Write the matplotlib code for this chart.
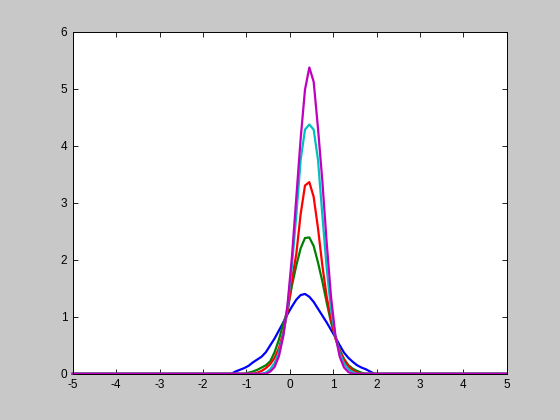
import matplotlib
matplotlib.use("Agg")
import matplotlib.pyplot as plt

# gemeinsame x-Stuetzstellen (Schritt 0.1) plus Raender -5 und 5
x_inner = [-1.45, -1.35, -1.25, -1.15, -1.05, -0.95, -0.85, -0.75, -0.65, -0.55,
           -0.45, -0.35, -0.25, -0.15, -0.05, 0.05, 0.15, 0.25, 0.35, 0.45,
           0.55, 0.65, 0.75, 0.85, 0.95, 1.05, 1.15, 1.25, 1.35, 1.45,
           1.55, 1.65, 1.75, 1.85, 1.95]

blue_y = [0, 0, 0.04, 0.07, 0.10, 0.14, 0.20, 0.25, 0.30, 0.38,
          0.50, 0.62, 0.76, 0.90, 1.05, 1.18, 1.30, 1.38, 1.40, 1.35,
          1.26, 1.14, 1.02, 0.90, 0.77, 0.64, 0.50, 0.37, 0.28, 0.21,
          0.15, 0.11, 0.08, 0.04, 0]
green_y = [0, 0, 0, 0, 0, 0.02, 0.04, 0.07, 0.11, 0.15,
           0.22, 0.38, 0.60, 0.88, 1.12, 1.55, 1.90, 2.20, 2.38, 2.39,
           2.24, 1.95, 1.62, 1.25, 0.90, 0.64, 0.42, 0.26, 0.15, 0.09,
           0.05, 0.02, 0, 0, 0]
red_y = [0, 0, 0, 0, 0, 0, 0, 0.02, 0.05, 0.10,
         0.17, 0.28, 0.45, 0.72, 1.10, 1.65, 2.10, 2.80, 3.30, 3.36,
         3.10, 2.55, 1.90, 1.35, 0.95, 0.62, 0.40, 0.24, 0.13, 0.06,
         0.02, 0, 0, 0, 0]
cyan_y = [0, 0, 0, 0, 0, 0, 0, 0, 0, 0.02,
          0.08, 0.19, 0.38, 0.68, 1.19, 1.90, 2.78, 3.75, 4.28, 4.37,
          4.28, 3.75, 2.78, 1.85, 1.12, 0.66, 0.36, 0.18, 0.08, 0.03,
          0, 0, 0, 0, 0]
magenta_y = [0, 0, 0, 0, 0, 0, 0, 0, 0, 0,
             0.04, 0.12, 0.31, 0.66, 1.23, 2.06, 3.09, 4.12, 4.98, 5.37,
             5.12, 4.30, 3.38, 2.30, 1.35, 0.68, 0.30, 0.11, 0.03, 0,
             0, 0, 0, 0, 0]

x_ticks = [-5, -4, -3, -2, -1, 0, 1, 2, 3, 4, 5]
y_ticks = [0, 1, 2, 3, 4, 5, 6]

plt.rcParams['axes.unicode_minus'] = False
plt.rcParams['font.family'] = ['Liberation Sans', 'DejaVu Sans']

fig = plt.figure(figsize=(5.6, 4.2), dpi=100, facecolor="#c8c8c8")
ax = fig.add_axes([0.13, 0.11, 0.775, 0.815])
ax.set_facecolor("white")

x = [-5] + x_inner + [5]
curves = [(blue_y, (0, 0, 1)),
          (green_y, (0, 0.5, 0)),
          (red_y, (1, 0, 0)),
          (cyan_y, (0, 0.75, 0.75)),
          (magenta_y, (0.75, 0, 0.75))]
for ys, col in curves:
    ax.plot(x, [0] + ys + [0], color=col, linewidth=1.6, clip_on=False)

ax.set_xlim(-5, 5)
ax.set_ylim(0, 6)
ax.set_xticks(x_ticks)
ax.set_yticks(y_ticks)
ax.tick_params(direction="in", length=3.5, width=0.6, top=True, right=True,
               labelsize=8.5, colors="black", pad=4)
for s in ax.spines.values():
    s.set_linewidth(0.7)
    s.set_color("black")

fig.savefig("out.png", dpi=100, facecolor=fig.get_facecolor())
